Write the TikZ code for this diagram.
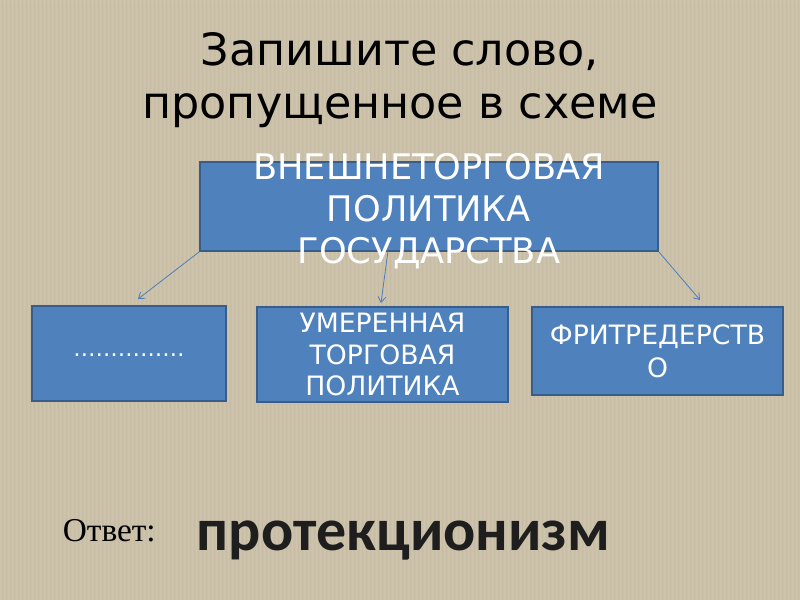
\documentclass[tikz,border=0pt]{standalone}
\usepackage{fontspec}
\setmainfont{DejaVu Sans}
\newfontfamily\otvetfont{Liberation Serif}
\newfontfamily\slovofont{Carlito}
\usetikzlibrary{arrows.meta}

\definecolor{fon}{RGB}{203,192,168}
\definecolor{fonDark}{RGB}{150,135,105}
\definecolor{blok}{RGB}{79,129,189}
\definecolor{blokKraj}{RGB}{56,93,138}
\definecolor{strelka}{RGB}{74,126,187}

\begin{document}
\begin{tikzpicture}[x=0.9pt,y=-0.9pt,
  blokstyle/.style={draw=blokKraj, line width=1.8pt, fill=blok, text=white,
    align=center, inner sep=0pt},
  strelkastyle/.style={draw=strelka, line width=0.7pt,
    -{Straight Barb[length=5pt,width=7pt]}}]

% fon
\useasboundingbox (0,0) rectangle (800,600);
\fill[fon] (0,0) rectangle (800,600);
\draw[white, opacity=.07, line width=0.6pt, step=4] (0,0) grid (800,600);
\draw[fonDark, opacity=.06, line width=0.6pt, step=4, shift={(2,2)}] (0,0) grid (798,598);

% zagolovok
\node[align=center, anchor=base,
  font=\fontsize{40pt}{47.7pt}\selectfont] (zag) at (400,118)
  {Запишите слово,\\пропущенное в схеме};

% verhnij blok
\node[blokstyle, minimum width=412pt, minimum height=80pt] (politika) at (429,206.5) {};
\node[text=white, align=center, font=\fontsize{31.7pt}{37.8pt}\selectfont]
  (politikaText) at ([yshift=-4pt]politika.center)
  {ВНЕШНЕТОРГОВАЯ\\ПОЛИТИКА\\ГОСУДАРСТВА};

% nizhnie bloki
\node[blokstyle, minimum width=174.6pt, minimum height=85.5pt,
  font=\fontsize{20pt}{24pt}\selectfont] (propusk) at (129,353.5)
  {\raisebox{-5pt}{……………}};
\node[blokstyle, minimum width=225.9pt, minimum height=85.5pt,
  font=\fontsize{24pt}{28.4pt}\selectfont] (umerennaya) at (382.5,354.5)
  {УМЕРЕННАЯ\\ТОРГОВАЯ\\ПОЛИТИКА};
\node[blokstyle, minimum width=225.9pt, minimum height=79.2pt,
  font=\fontsize{24pt}{29.7pt}\selectfont] (fritreder) at (657.5,351)
  {ФРИТРЕДЕРСТВ\\О};

% strelki
\coordinate (s1) at (138,299);
\coordinate (s2) at (381,303);
\coordinate (s3) at (700,300);
\coordinate (p2) at (388,251);
\draw[strelkastyle] (politika.south west) -- (s1);
\draw[strelkastyle] (p2) -- (s2);
\draw[strelkastyle] (politika.south east) -- (s3);

% otvet
\node[anchor=base west, font=\otvetfont\fontsize{30pt}{36pt}\selectfont] (otvet) at (59,541) {Ответ:};
\node[anchor=base west, text={rgb,255:red,30;green,30;blue,30},
  font=\slovofont\bfseries\fontsize{54pt}{60pt}\selectfont] (slovo) at (193,550) {протекционизм};

\end{tikzpicture}
\end{document}
